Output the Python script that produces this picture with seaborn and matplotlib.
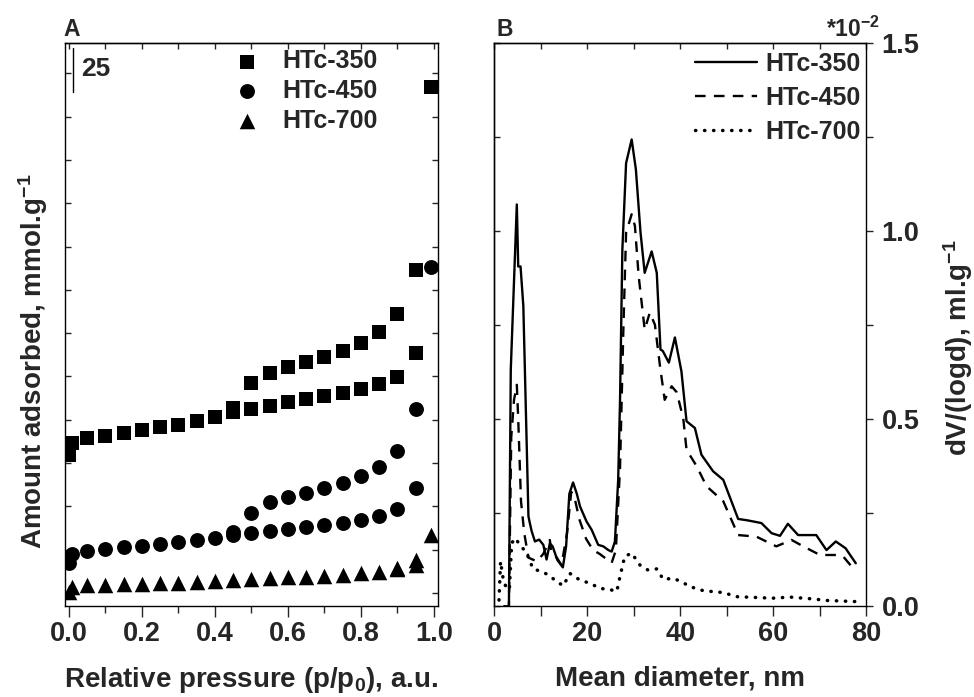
import matplotlib
matplotlib.use("Agg")
import matplotlib.pyplot as plt
import seaborn as sns
from matplotlib.ticker import MultipleLocator, NullFormatter, FormatStrFormatter

# panel A - isotherms, adsorption and desorption branches (arbitrary offset units, bar = 25)
p_ads = [0.001, 0.008, 0.05, 0.10, 0.15, 0.20, 0.25, 0.30, 0.35, 0.40, 0.45,
         0.50, 0.55, 0.60, 0.65, 0.70, 0.75, 0.80, 0.85, 0.90, 0.95, 0.992]
p_des = [0.45, 0.50, 0.55, 0.60, 0.65, 0.70, 0.75, 0.80, 0.85, 0.90, 0.95]
p_des700 = [0.90, 0.95]

htc350_ads = [104.6, 111.6, 114.4, 115.6, 117.3, 119.1, 120.8, 121.9, 124.2, 126.6, 129.4,
              131.2, 132.9, 135.2, 136.9, 138.7, 140.4, 142.7, 145.6, 149.6, 163.5, 317.0]
htc350_des = [131.8, 146.2, 151.9, 155.4, 158.3, 161.2, 164.6, 169.3, 175.6, 186.0, 211.4]
htc450_ads = [42.3, 47.5, 49.2, 50.4, 51.5, 52.1, 53.3, 54.4, 55.6, 56.7, 58.5,
              59.6, 60.8, 61.9, 63.1, 64.2, 65.4, 67.1, 69.4, 73.5, 85.6, 213.1]
htc450_des = [60.2, 71.2, 77.5, 80.4, 82.7, 85.6, 88.5, 92.5, 97.7, 106.9, 131.2]
htc700_ads = [25.6, 28.5, 29.6, 29.6, 30.2, 30.2, 30.8, 30.8, 31.3, 31.9, 32.5,
              33.1, 33.7, 34.2, 34.2, 34.8, 35.4, 36.5, 37.1, 38.8, 41.2, 58.5]
htc700_des = [39.3, 44.0]

# panel B - pore size distributions (x10^-2 ml/g)
d350 = [2.0, 3.1, 3.5, 4.8, 5.1, 5.6, 6.2, 7.3, 7.6, 8.0, 8.7, 9.6, 10.5, 11.2, 11.9, 12.5,
        13.5, 14.7, 15.4, 16.1, 16.9, 17.7, 18.4, 19.8, 20.9, 22.3, 23.4, 24.5, 25.2, 25.9,
        26.6, 27.0, 27.5, 28.3, 29.5, 30.4, 31.4, 32.3, 33.8, 34.9, 35.7, 36.2, 37.5, 38.8,
        40.2, 41.3, 43.1, 44.5, 47.0, 49.2, 52.4, 54.5, 57.4, 59.6, 61.4, 63.1, 65.3, 69.2,
        71.4, 73.4, 75.5, 77.7]
v350 = [0.0, 0.0, 0.63, 1.07, 0.905, 0.905, 0.80, 0.24, 0.222, 0.20, 0.173, 0.178, 0.164,
        0.125, 0.168, 0.16, 0.124, 0.104, 0.16, 0.30, 0.33, 0.30, 0.266, 0.226, 0.204, 0.164,
        0.16, 0.15, 0.146, 0.173, 0.337, 0.55, 0.95, 1.18, 1.243, 1.164, 0.996, 0.888, 0.945,
        0.888, 0.684, 0.68, 0.649, 0.716, 0.626, 0.493, 0.475, 0.404, 0.36, 0.337, 0.233,
        0.229, 0.222, 0.195, 0.188, 0.22, 0.19, 0.19, 0.15, 0.173, 0.155, 0.115]

d450 = [2.0, 3.1, 3.6, 4.2, 4.8, 5.1, 5.7, 6.4, 7.3, 9.1, 10.5, 11.9, 12.2, 13.4, 14.4,
        15.6, 16.5, 17.2, 18.3, 19.7, 21.2, 22.6, 25.2, 26.1, 27.0, 27.7, 28.3, 29.5, 30.2,
        31.0, 32.3, 33.4, 34.5, 35.6, 36.6, 38.1, 39.2, 40.6, 41.3, 43.5, 45.6, 49.2, 52.4,
        56.3, 60.6, 63.9, 66.4, 70.0, 73.5, 75.0, 77.7]
v450 = [0.0, 0.0, 0.45, 0.55, 0.59, 0.50, 0.28, 0.195, 0.13, 0.12, 0.14, 0.177, 0.145, 0.13,
        0.11, 0.195, 0.305, 0.29, 0.23, 0.18, 0.15, 0.14, 0.116, 0.15, 0.37, 0.73, 0.995,
        1.044, 1.013, 0.88, 0.737, 0.782, 0.75, 0.639, 0.55, 0.586, 0.57, 0.50, 0.417, 0.373,
        0.32, 0.28, 0.19, 0.186, 0.16, 0.177, 0.16, 0.137, 0.137, 0.133, 0.093]

d700 = [0.97, 1.3, 1.9, 2.6, 3.2, 3.7, 4.4, 5.5, 6.9, 8.3, 10.1, 11.6, 13.4, 14.8, 16.2,
        18.4, 20.5, 22.7, 24.8, 26.3, 27.0, 28.0, 29.5, 31.3, 33.0, 34.9, 36.3, 38.4, 40.2,
        42.0, 44.9, 49.2, 52.1, 59.9, 63.5, 68.5, 71.4, 77.7]
v700 = [0.017, 0.12, 0.07, 0.048, 0.045, 0.168, 0.182, 0.164, 0.142, 0.10, 0.093, 0.084,
        0.066, 0.055, 0.088, 0.07, 0.062, 0.048, 0.045, 0.04, 0.08, 0.133, 0.142, 0.11,
        0.097, 0.10, 0.072, 0.075, 0.066, 0.053, 0.042, 0.037, 0.026, 0.022, 0.025, 0.02,
        0.016, 0.013]

sns.set_style("ticks")
plt.rcParams['font.family'] = ['Liberation Sans', 'DejaVu Sans']
plt.rcParams['font.weight'] = 'bold'
plt.rcParams['axes.labelweight'] = 'bold'
plt.rcParams['mathtext.fontset'] = 'custom'
plt.rcParams['mathtext.rm'] = 'Liberation Sans:bold'
plt.rcParams['mathtext.bf'] = 'Liberation Sans:bold'
plt.rcParams['mathtext.default'] = 'bf'
plt.rcParams['axes.linewidth'] = 1.0

fig = plt.figure(figsize=(9.74, 6.97), dpi=100)
axA = fig.add_axes([0.0667, 0.1306, 0.3830, 0.8077])
axB = fig.add_axes([0.5077, 0.1299, 0.3819, 0.8085])

# ---- A ----
sns.scatterplot(x=p_ads + p_des, y=htc350_ads + htc350_des, marker='s', s=90, color='k',
                linewidth=0, ax=axA, label='HTc-350')
sns.scatterplot(x=p_ads + p_des, y=htc450_ads + htc450_des, marker='o', s=115, color='k',
                linewidth=0, ax=axA, label='HTc-450')
sns.scatterplot(x=p_ads + p_des700, y=htc700_ads + htc700_des, marker='^', s=125, color='k',
                linewidth=0, ax=axA, label='HTc-700')
axA.set_xlim(-0.011, 1.011)
axA.set_ylim(17.5, 342.5)
axA.xaxis.set_major_locator(MultipleLocator(0.2))
axA.xaxis.set_minor_locator(MultipleLocator(0.1))
axA.xaxis.set_major_formatter(FormatStrFormatter('%.1f'))
axA.yaxis.set_major_locator(MultipleLocator(25))
axA.yaxis.set_major_formatter(NullFormatter())
axA.tick_params(axis='x', which='major', direction='out', length=8, width=1, labelsize=19.5, pad=3)
axA.tick_params(axis='x', which='minor', direction='out', length=5, width=1)
axA.tick_params(axis='y', which='major', direction='in', length=4, width=1, left=True, right=True)
topA = axA.secondary_xaxis('top')
topA.xaxis.set_major_locator(MultipleLocator(0.1))
topA.tick_params(direction='in', length=4, width=1, labeltop=False)
axA.set_xlabel('Relative pressure (p/p$_0$), a.u.', fontsize=20)
axA.xaxis.set_label_coords(0.5, -0.105)
axA.set_ylabel('Amount adsorbed, mmol.g$^{-1}$', fontsize=20)
axA.yaxis.set_label_coords(-0.04, 0.435)
axA.legend(loc='upper left', bbox_to_anchor=(0.454, 0.989), frameon=False, fontsize=18,
           handlelength=1.0, handletextpad=0.94, labelspacing=0.23, borderpad=0, borderaxespad=0)
# scale bar
axA.plot([0.012, 0.012], [314.5, 339.5], color='k', lw=1)
axA.text(0.032, 327.4, '25', fontsize=19, fontweight='bold', va='center', ha='left')

# ---- B ----
sns.lineplot(x=d350, y=v350, color='k', lw=1.7, estimator=None, ax=axB, label='HTc-350')
sns.lineplot(x=d450, y=v450, color='k', lw=1.7, estimator=None, ax=axB, label='HTc-450',
             linestyle=(0, (4.5, 3.5)))
sns.lineplot(x=d700, y=v700, color='k', lw=2.5, estimator=None, ax=axB, label='HTc-700',
             linestyle=(0, (0.1, 2.5)), dash_capstyle='round')
axB.set_xlim(0, 80)
axB.set_ylim(0, 1.5)
axB.xaxis.set_major_locator(MultipleLocator(20))
axB.xaxis.set_minor_locator(MultipleLocator(10))
axB.yaxis.set_major_locator(MultipleLocator(0.5))
axB.yaxis.set_minor_locator(MultipleLocator(0.25))
axB.tick_params(axis='x', which='both', direction='out', length=7.5, width=1, labelsize=19.5, pad=3)
axB.tick_params(axis='y', which='both', direction='out', length=5, width=1, labelsize=19.5,
                left=False, right=True, labelleft=False, labelright=True, pad=6)
axB.yaxis.set_major_formatter(FormatStrFormatter('%.1f'))
topB = axB.secondary_xaxis('top')
topB.xaxis.set_major_locator(MultipleLocator(10))
topB.tick_params(direction='in', length=4, width=1, labeltop=False)
leftB = axB.secondary_yaxis('left')
leftB.yaxis.set_major_locator(MultipleLocator(0.25))
leftB.tick_params(direction='in', length=4, width=1, labelleft=False)
axB.set_xlabel('Mean diameter, nm', fontsize=20)
axB.xaxis.set_label_coords(0.5, -0.105)
axB.yaxis.set_label_position('right')
axB.set_ylabel('dV/(logd), ml.g$^{-1}$', fontsize=20)
axB.yaxis.set_label_coords(1.2, 0.46)
axB.legend(loc='upper left', bbox_to_anchor=(0.539, 0.984), frameon=False, fontsize=18,
           handlelength=2.5, handletextpad=0.32, labelspacing=0.4, borderpad=0, borderaxespad=0)

for ax in (axA, axB):
    for sp in ax.spines.values():
        sp.set_visible(True)
        sp.set_color('k')

fig.text(63 / 974, 1 - 18 / 697, 'A', fontsize=16.5, fontweight='bold', va='top', ha='left')
fig.text(497 / 974, 1 - 18 / 697, 'B', fontsize=16.5, fontweight='bold', va='top', ha='left')
fig.text(826 / 974, 1 - 37 / 697, '*10$^{-2}$', fontsize=16.5, fontweight='bold',
         va='baseline', ha='left')

fig.savefig('out.png', dpi=100)
